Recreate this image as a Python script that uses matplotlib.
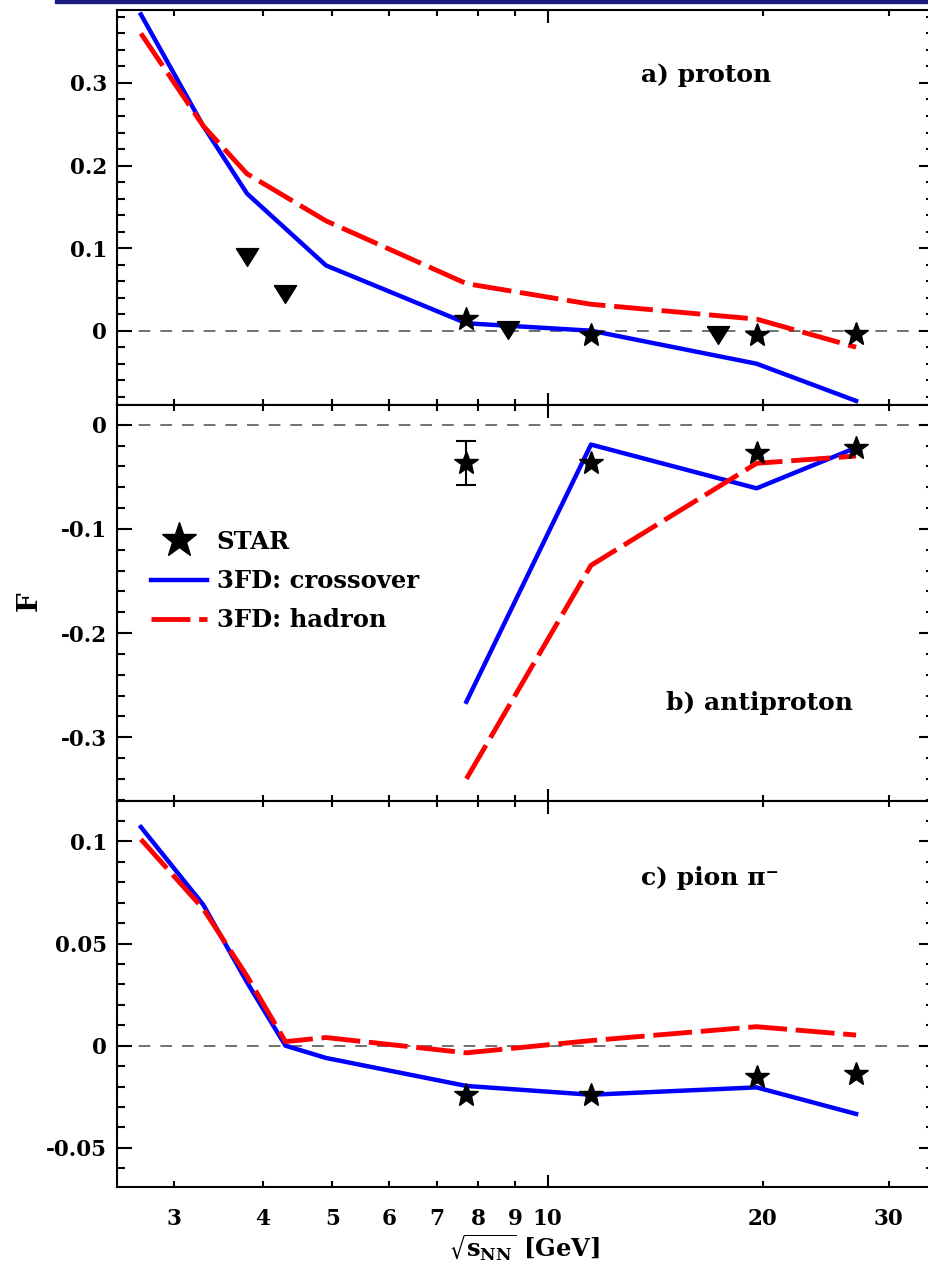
import matplotlib
matplotlib.use("Agg")
import numpy as np
import matplotlib.pyplot as plt
from matplotlib.lines import Line2D
from matplotlib.patches import Rectangle

plt.rcParams['font.family'] = ['DejaVu Serif']
plt.rcParams['font.weight'] = 'bold'
plt.rcParams['mathtext.fontset'] = 'dejavuserif'

# ---------------- data ----------------
# a) proton
star_p_x = [7.7, 11.5, 19.6, 27]
star_p_y = [0.014, -0.005, -0.005, -0.004]
tri_p_x = [3.8, 4.3, 8.8, 17.3]
tri_p_y = [0.089, 0.044, 0.001, -0.005]
cross_p_x = [2.7, 3.3, 3.8, 4.9, 7.7, 8.8, 11.5, 19.6, 27]
cross_p_y = [0.383, 0.248, 0.166, 0.079, 0.009, 0.006, 0.0, -0.040, -0.085]
hadr_p_x = [2.7, 3.3, 3.8, 4.9, 7.7, 11.5, 19.6, 27]
hadr_p_y = [0.360, 0.248, 0.190, 0.133, 0.057, 0.032, 0.014, -0.020]

# b) antiproton
star_ap_x = [7.7, 11.5, 19.6, 27]
star_ap_y = [-0.037, -0.037, -0.027, -0.022]
star_ap_err = [0.021, 0.0, 0.0, 0.0]
cross_ap_x = [7.7, 11.5, 19.6, 27]
cross_ap_y = [-0.266, -0.019, -0.061, -0.022]
hadr_ap_x = [7.7, 11.5, 19.6, 27]
hadr_ap_y = [-0.340, -0.135, -0.037, -0.030]

# c) pion pi-
star_pi_x = [7.7, 11.5, 19.6, 27]
star_pi_y = [-0.024, -0.024, -0.0155, -0.014]
cross_pi_x = [2.7, 3.3, 3.8, 4.3, 4.9, 7.7, 11.5, 19.6, 27]
cross_pi_y = [0.107, 0.069, 0.031, 0.0, -0.006, -0.0197, -0.024, -0.0204, -0.0334]
hadr_pi_x = [2.7, 3.3, 3.8, 4.3, 4.9, 7.7, 11.5, 19.6, 27]
hadr_pi_y = [0.101, 0.067, 0.034, 0.002, 0.004, -0.0035, 0.0025, 0.0093, 0.0052]

x_minor_ticks = [3, 4, 5, 6, 7, 8, 9, 20, 30]
x_minor_labels = ['3', '4', '5', '6', '7', '8', '9', '20', '30']
x_major_ticks = [10]
x_major_labels = ['10']

p_yticks = [0, 0.1, 0.2, 0.3]
p_ylabels = ['0', '0.1', '0.2', '0.3']
ap_yticks = [-0.3, -0.2, -0.1, 0]
ap_ylabels = ['-0.3', '-0.2', '-0.1', '0']
pi_yticks = [-0.05, 0, 0.05, 0.1]
pi_ylabels = ['-0.05', '0', '0.05', '0.1']

panel_labels = ['a) proton', 'b) antiproton', 'c) pion \u03c0\u207b']
legend_labels = ['STAR', '3FD: crossover', '3FD: hadron']

# ---------------- figure ----------------
W, H = 929, 1263
fig = plt.figure(figsize=(W / 100, H / 100), dpi=100)

def axrect(top, bottom):
    return [117 / W, 1 - bottom / H, (934 - 117) / W, (bottom - top) / H]

ax1 = fig.add_axes(axrect(9.5, 405))
ax2 = fig.add_axes(axrect(405, 800.7))
ax3 = fig.add_axes(axrect(800.7, 1187.3))

BLUE = '#0000ff'
RED = '#ff0000'
red_dash = (0, (8, 1.8))
zero_dash = (0, (6.5, 5.5))
tri_marker = [(-1, 0.8), (1, 0.8), (0, -0.8), (-1, 0.8)]

def style_axis(ax, ylim, yticks, ylabels, yminor_step, show_x):
    ax.set_xscale('log')
    ax.set_xlim(2.5, 34.7)
    ax.set_ylim(*ylim)
    ax.set_xticks(x_major_ticks)
    ax.set_xticks(x_minor_ticks, minor=True)
    if show_x:
        ax.set_xticklabels(x_major_labels)
        ax.set_xticklabels(x_minor_labels, minor=True)
    else:
        ax.set_xticklabels([])
        ax.set_xticklabels([], minor=True)
    ax.set_yticks(yticks)
    ax.set_yticklabels(ylabels)
    mn = np.arange(np.ceil(ylim[0] / yminor_step - 1e-6) * yminor_step,
                   ylim[1] + 1e-9, yminor_step)
    ax.set_yticks(mn, minor=True)
    ax.tick_params(which='both', direction='in', top=True, right=True,
                   width=1.5, labelsize=15.5)
    ax.xaxis.set_tick_params(which='major', length=9, pad=15)
    ax.xaxis.set_tick_params(which='minor', length=4.5, pad=15)
    ax.yaxis.set_tick_params(which='major', length=11, pad=7)
    ax.yaxis.set_tick_params(which='minor', length=5.5)
    for sp in ax.spines.values():
        sp.set_linewidth(1.5)
    for t in ax.get_xticklabels(which='both') + ax.get_yticklabels():
        t.set_fontweight('bold')
    ax.axhline(0, color='#666666', lw=1.3, ls=zero_dash, zorder=1)

style_axis(ax1, (-0.09, 0.389), p_yticks, p_ylabels, 0.02, False)
style_axis(ax2, (-0.361, 0.019), ap_yticks, ap_ylabels, 0.02, False)
style_axis(ax3, (-0.0693, 0.1199), pi_yticks, pi_ylabels, 0.01, True)

# panel a
ax1.plot(cross_p_x, cross_p_y, color=BLUE, lw=3.2, zorder=3)
ax1.plot(hadr_p_x, hadr_p_y, color=RED, lw=3.5, ls=red_dash, zorder=3)
ax1.plot(tri_p_x, tri_p_y, ls='none', marker=tri_marker, ms=16, color='black', zorder=4)
ax1.plot(star_p_x, star_p_y, ls='none', marker='*', ms=18, color='black', zorder=4)

# panel b
ax2.plot(cross_ap_x, cross_ap_y, color=BLUE, lw=3.2, zorder=3)
ax2.plot(hadr_ap_x, hadr_ap_y, color=RED, lw=3.5, ls=red_dash, zorder=3)
ex = [x for x, e in zip(star_ap_x, star_ap_err) if e > 0]
ey = [y for y, e in zip(star_ap_y, star_ap_err) if e > 0]
ee = [e for e in star_ap_err if e > 0]
ax2.errorbar(ex, ey, yerr=ee, fmt='none', ecolor='black', elinewidth=1.5,
             capsize=7, capthick=1.5, zorder=4)
ax2.plot(star_ap_x, star_ap_y, ls='none', marker='*', ms=18, color='black', zorder=4)

# panel c
ax3.plot(cross_pi_x, cross_pi_y, color=BLUE, lw=3.2, zorder=3)
ax3.plot(hadr_pi_x, hadr_pi_y, color=RED, lw=3.5, ls=red_dash, zorder=3)
ax3.plot(star_pi_x, star_pi_y, ls='none', marker='*', ms=18, color='black', zorder=4)

# legend
handles = [
    Line2D([], [], ls='none', marker='*', ms=26, color='black'),
    Line2D([], [], color=BLUE, lw=3.2),
    Line2D([], [], color=RED, lw=3.5, ls=red_dash),
]
ax2.legend(handles, legend_labels, loc='upper left',
           bbox_to_anchor=(151 / W, 1 - 530 / H), bbox_transform=fig.transFigure,
           frameon=False, borderpad=0, borderaxespad=0, handlelength=2.3,
           handletextpad=0.4, labelspacing=0.62,
           prop={'family': 'DejaVu Serif', 'weight': 'bold', 'size': 17.5})

# panel labels
for (px, py), txt in zip([(641, 82), (666, 710), (641, 885)], panel_labels):
    fig.text(px / W, 1 - py / H, txt, fontsize=18, fontweight='bold',
             ha='left', va='baseline')

# axis labels
fig.text(29 / W, 1 - 601 / H, 'F', rotation=90, fontsize=20, fontweight='bold',
         ha='center', va='center')
fig.text(524.5 / W, 1 - 1257 / H, r'$\sqrt{\mathbf{s}_{\mathbf{NN}}}$ [GeV]',
         fontsize=17.5, fontweight='bold', ha='center', va='baseline')

# header bar
fig.add_artist(Rectangle((55 / W, 1 - 3 / H), 1, 3 / H, color='#1a1a80',
                         transform=fig.transFigure, zorder=10))

fig.savefig('out.png', dpi=100)
